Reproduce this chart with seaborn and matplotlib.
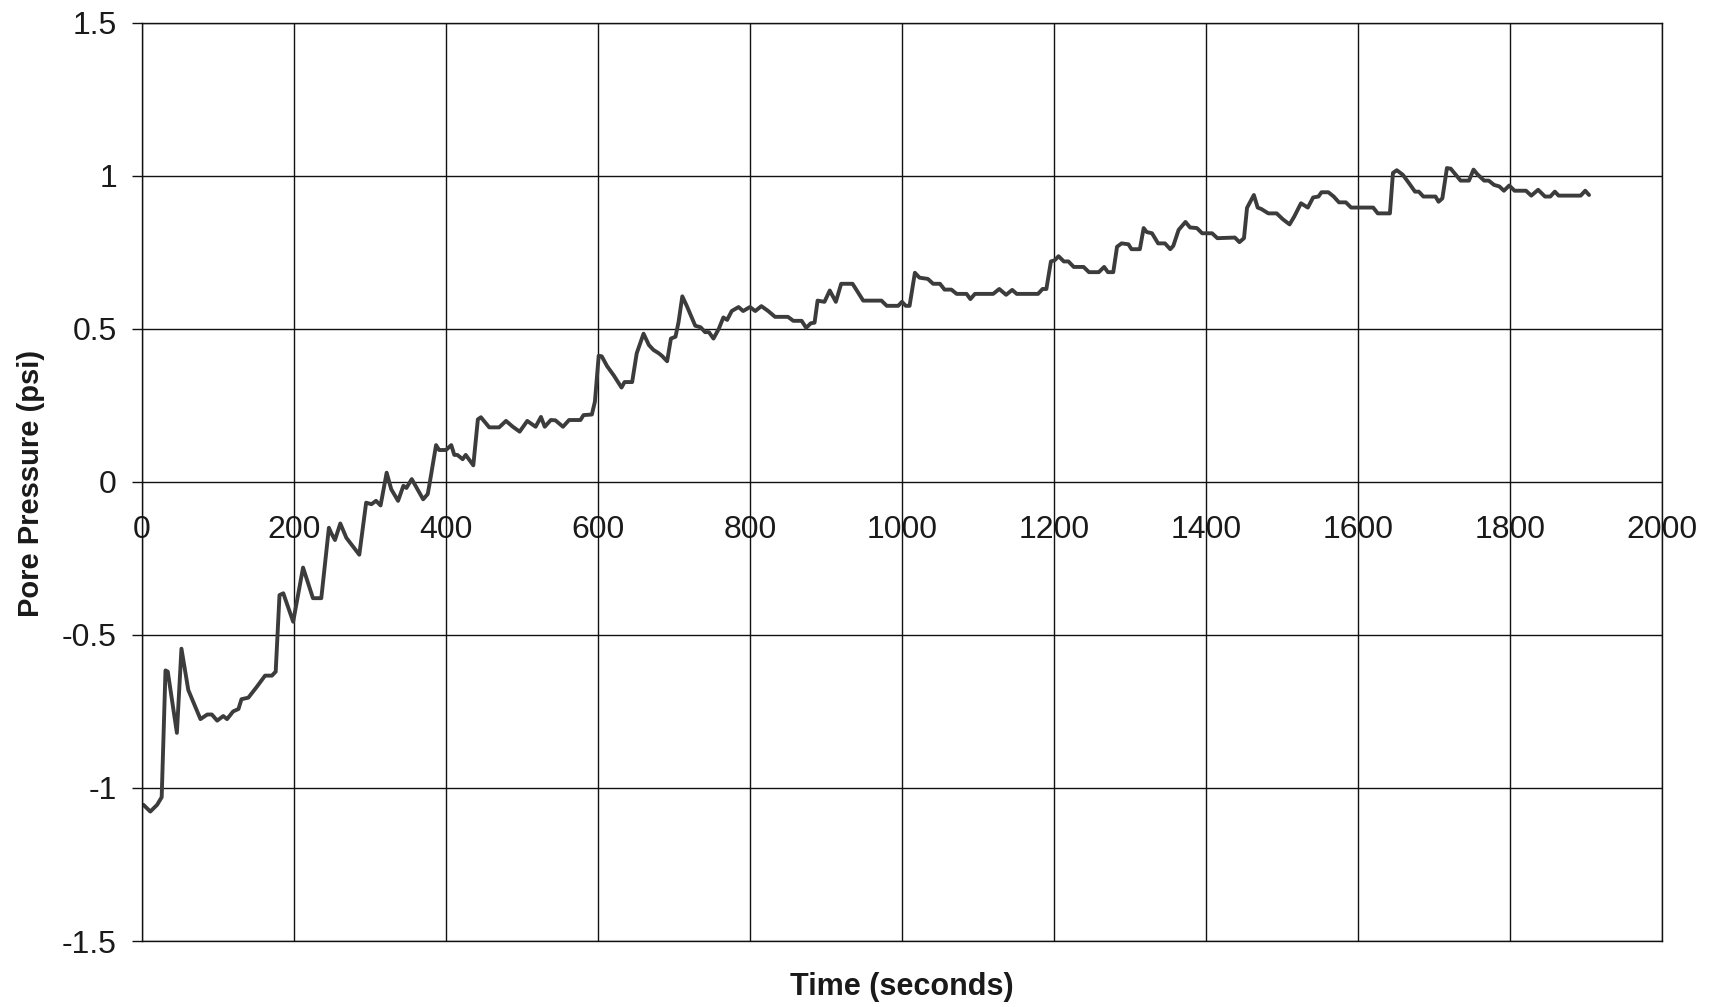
import matplotlib
matplotlib.use("Agg")
import matplotlib.pyplot as plt
import seaborn as sns
import pandas as pd

# ---- data ----
time_s = [2, 11, 20, 26, 31, 34, 46, 52, 61, 77, 86, 92, 99, 107, 112, 120, 127, 131, 140, 151,
          162, 171, 176, 181, 186, 199, 212, 225, 236, 246, 249, 254, 261, 269, 286, 295, 302, 308,
          314, 322, 328, 337, 344, 348, 355, 370, 376,
          378, 387, 391, 400, 407, 411, 415, 422, 426, 436, 442, 446, 457, 470, 479, 488, 497, 507,
          518, 525, 530, 538, 544, 554, 562, 577, 581, 592, 596, 601, 605, 612, 621, 631, 635, 645,
          651, 660, 667, 673, 680, 684, 691, 696, 702, 706, 711, 717, 728, 735, 741, 746, 752, 759,
          765, 770, 776, 785, 791, 800, 807, 815, 824, 833, 850, 857, 868,
          874, 880, 885, 889, 898, 905, 913, 920, 935, 949, 973, 980, 995, 1000, 1005, 1010, 1017,
          1023, 1034, 1041, 1050, 1056, 1065, 1072, 1085, 1090, 1096, 1120, 1128, 1137, 1145, 1151,
          1179, 1185, 1190, 1196, 1201, 1206, 1213, 1219, 1226, 1239, 1246, 1259, 1266, 1271, 1278,
          1283, 1289, 1298, 1302, 1313, 1318, 1322, 1329, 1337, 1346, 1353, 1357, 1364, 1373, 1379,
          1388, 1395, 1408, 1415, 1438, 1444, 1450, 1454, 1463,
          1468, 1473, 1482, 1493, 1501, 1510, 1516, 1525, 1534, 1541, 1548, 1552, 1561, 1568, 1575,
          1584, 1591, 1602, 1620, 1626, 1642, 1646, 1651, 1659, 1667, 1675, 1680, 1686, 1702, 1706,
          1711, 1717, 1722, 1735, 1746, 1752, 1757, 1766, 1772, 1779, 1786, 1792, 1799, 1806, 1810,
          1821, 1828, 1837, 1846, 1853, 1859, 1864, 1893, 1899, 1904]

pore_psi = [-1.055, -1.077, -1.055, -1.03, -0.616, -0.62, -0.82, -0.545, -0.68, -0.775, -0.76, -0.76,
            -0.78, -0.765, -0.775, -0.75, -0.742, -0.71, -0.705, -0.67, -0.633, -0.633, -0.62, -0.37,
            -0.364, -0.457, -0.28, -0.38, -0.38, -0.15, -0.167, -0.19, -0.136, -0.183, -0.238, -0.068,
            -0.073, -0.062, -0.077, 0.03, -0.024, -0.062, -0.013, -0.02, 0.009, -0.057, -0.04,
            -0.013, 0.12, 0.104, 0.104, 0.12, 0.088, 0.088, 0.074, 0.088, 0.054, 0.204, 0.211, 0.178,
            0.178, 0.199, 0.18, 0.164, 0.199, 0.18, 0.212, 0.18, 0.202, 0.201, 0.18, 0.202, 0.202,
            0.218, 0.22, 0.262, 0.412, 0.41, 0.378, 0.347, 0.308, 0.326, 0.326, 0.42, 0.484, 0.447,
            0.431, 0.42, 0.412, 0.394, 0.468, 0.474, 0.521, 0.606, 0.574, 0.51, 0.505, 0.489, 0.489,
            0.468, 0.5, 0.537, 0.529, 0.558, 0.571, 0.558, 0.571, 0.558, 0.574, 0.558, 0.539, 0.539,
            0.526, 0.526,
            0.503, 0.518, 0.52, 0.592, 0.588, 0.625, 0.588, 0.647, 0.647, 0.592, 0.592, 0.575, 0.575,
            0.588, 0.575, 0.575, 0.683, 0.667, 0.663, 0.647, 0.647, 0.628, 0.628, 0.614, 0.614, 0.597,
            0.614, 0.614, 0.63, 0.611, 0.627, 0.614, 0.614, 0.63, 0.63, 0.72, 0.724, 0.737, 0.72, 0.72,
            0.702, 0.702, 0.685, 0.685, 0.702, 0.685, 0.685, 0.768, 0.779, 0.776, 0.76, 0.76, 0.829,
            0.816, 0.812, 0.779, 0.779, 0.76, 0.771, 0.823, 0.849, 0.831, 0.829, 0.812, 0.812, 0.796,
            0.798, 0.783, 0.796, 0.895, 0.937,
            0.896, 0.891, 0.877, 0.877, 0.858, 0.841, 0.866, 0.91, 0.896, 0.929, 0.932, 0.946, 0.946,
            0.932, 0.913, 0.913, 0.896, 0.896, 0.896, 0.877, 0.877, 1.009, 1.018, 1.003, 0.976, 0.948,
            0.948, 0.932, 0.932, 0.915, 0.926, 1.025, 1.023, 0.984, 0.984, 1.02, 1.005, 0.984, 0.984,
            0.97, 0.965, 0.951, 0.968, 0.951, 0.951, 0.951, 0.935, 0.954, 0.932, 0.932, 0.948, 0.935,
            0.935, 0.951, 0.937]

x_ticks = [0, 200, 400, 600, 800, 1000, 1200, 1400, 1600, 1800, 2000]
y_ticks = [-1.5, -1, -0.5, 0, 0.5, 1, 1.5]
y_tick_labels = ["-1.5", "-1", "-0.5", "0", "0.5", "1", "1.5"]
x_label = "Time (seconds)"
y_label = "Pore Pressure (psi)"

df = pd.DataFrame({"time": time_s, "pressure": pore_psi})

sns.set_style("white")
plt.rcParams["font.family"] = ["Liberation Sans", "DejaVu Sans"]

fig = plt.figure(figsize=(17.12, 10.07), dpi=100)
ax = fig.add_axes([0.0829, 0.0655, 0.8879, 0.9120])

sns.lineplot(data=df, x="time", y="pressure", ax=ax, color="#3c3c3c",
             linewidth=2.8, estimator=None, sort=False)

ax.set_xlim(0, 2000)
ax.set_ylim(-1.5, 1.5)
ax.set_xticks(x_ticks)
ax.set_yticks(y_ticks)
ax.set_yticklabels(y_tick_labels)

ax.grid(True, color="#111111", linewidth=1.0)
for s in ax.spines.values():
    s.set_visible(True)
    s.set_color("#111111")
    s.set_linewidth(1.0)

ax.tick_params(axis="x", bottom=False, labelbottom=False)
ax.tick_params(axis="y", left=True, direction="out", length=7, width=1.0,
               color="#111111", pad=11, labelsize=23, labelcolor="#1a1a1a")

# x tick labels sit just under the y = 0 line (axis crossing at zero)
sec = ax.secondary_xaxis(0.5)
sec.set_alignment("bottom")
sec.set_xticks(x_ticks)
sec.set_xticklabels([str(v) for v in x_ticks])
sec.spines["bottom"].set_visible(False)
sec.spines["top"].set_visible(False)
sec.tick_params(axis="x", length=0, pad=24, labelsize=23, labelcolor="#1a1a1a")

ax.set_xlabel("")
ax.set_ylabel("")
fig.text(0.527, 0.020, x_label, ha="center", va="center", fontsize=22,
         fontweight="bold", color="#1a1a1a")
fig.text(0.018, 0.52, y_label, ha="center", va="center", rotation=90, fontsize=21,
         fontweight="bold", color="#1a1a1a")

fig.savefig("out.png", dpi=100)
